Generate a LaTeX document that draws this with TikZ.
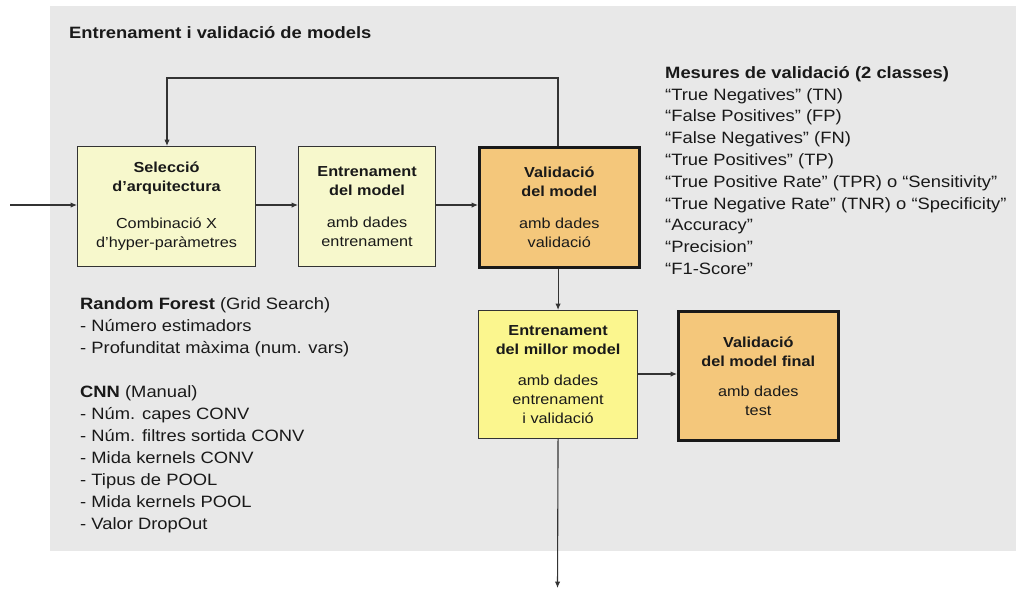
\documentclass[tikz,border=0pt]{standalone}
\usepackage{fontspec}
\setmainfont{Liberation Sans}[FakeStretch=1.12]
\usetikzlibrary{arrows.meta}
\definecolor{bggray}{HTML}{E8E8E8}
\definecolor{paleyel}{HTML}{F7F8CC}
\definecolor{brightyel}{HTML}{FBF68E}
\definecolor{orangebox}{HTML}{F4C77B}
\definecolor{linegray}{HTML}{333333}
\tikzset{
  boxbase/.style={rectangle, align=center, inner sep=0pt, anchor=north west,
    font=\fontsize{14.5}{19}\selectfont, text=black!90},
  thinbox/.style={boxbase, draw=linegray, line width=1.1pt},
  thickbox/.style={boxbase, draw=black!90, line width=2.6pt, fill=orangebox},
  conn/.style={draw=linegray, line width=1.1pt, -{Latex[length=6.5pt,width=5.5pt]}},
  sidetext/.style={anchor=north west, align=left, inner sep=0pt,
    font=\fontsize{16.4}{21.8}\selectfont, text=black!90}
}
\begin{document}
\begin{tikzpicture}[x=1pt,y=-1pt]
\useasboundingbox (0,0) rectangle (1017,590);
\fill[bggray] (50,6) rectangle (1016,551);
\node[anchor=base west, inner sep=0pt, font=\fontsize{16.4}{20}\selectfont\bfseries, text=black!90] (title) at (69,38) {Entrenament i validació de models};

% boxes
\node[thinbox, fill=paleyel, minimum width=178pt, minimum height=120pt] (sel) at (77,146)
  {\textbf{Selecció}\\\textbf{d’arquitectura}\\[18pt]Combinació X\\d’hyper-paràmetres};
\node[thinbox, fill=paleyel, minimum width=137pt, minimum height=120pt] (ent) at (298,146)
  {\textbf{Entrenament}\\\textbf{del model}\\[13pt]amb dades\\entrenament};
\node[thickbox, minimum width=160pt, minimum height=120pt] (val) at (478,146)
  {\textbf{Validació}\\\textbf{del model}\\[13pt]amb dades\\validació};
\node[thinbox, fill=brightyel, minimum width=159pt, minimum height=128pt] (best) at (478,310)
  {\textbf{Entrenament}\\\textbf{del millor model}\\[12pt]amb dades\\entrenament\\i validació};
\node[thickbox, minimum width=160pt, minimum height=129pt] (fin) at (677,310)
  {\textbf{Validació}\\\textbf{del model final}\\[11pt]amb dades\\test};

% connectors
\coordinate (in) at (10,205);
\coordinate (out) at (557.5,588);
\coordinate (loopR) at (558,78);
\coordinate (loopL) at (167,78);
\draw[conn] (in) -- (sel.west |- in);
\draw[conn] (sel.east |- in) -- (ent.west |- in);
\draw[conn] (ent.east |- in) -- (val.west |- in);
\draw[conn] (val.north -| loopR) -- (loopR) -- (loopL) -- (loopL |- sel.north);
\draw[conn] (val.south -| best.north) -- (best.north);
\draw[conn] (best.east |- 0,374) -- (fin.west |- 0,374);
\draw[conn] (best.south) -- (out);

% side texts
\node[sidetext] (meas) at (665,66) {\textbf{Mesures de validació (2 classes)}\\
“True Negatives” (TN)\\
“False Positives” (FP)\\
“False Negatives” (FN)\\
“True Positives” (TP)\\
“True Positive Rate” (TPR) o “Sensitivity”\\
“True Negative Rate” (TNR) o “Specificity”\\
“Accuracy”\\
“Precision”\\
“F1-Score”};

\node[sidetext, font=\fontsize{16.4}{22}\selectfont] (hyp) at (80,297) {\textbf{Random Forest} (Grid Search)\\
- Número estimadors\\
- Profunditat màxima (num. vars)\\[22pt]
\textbf{CNN} (Manual)\\
- Núm. capes CONV\\
- Núm. filtres sortida CONV\\
- Mida kernels CONV\\
- Tipus de POOL\\
- Mida kernels POOL\\
- Valor DropOut};
\end{tikzpicture}
\end{document}
